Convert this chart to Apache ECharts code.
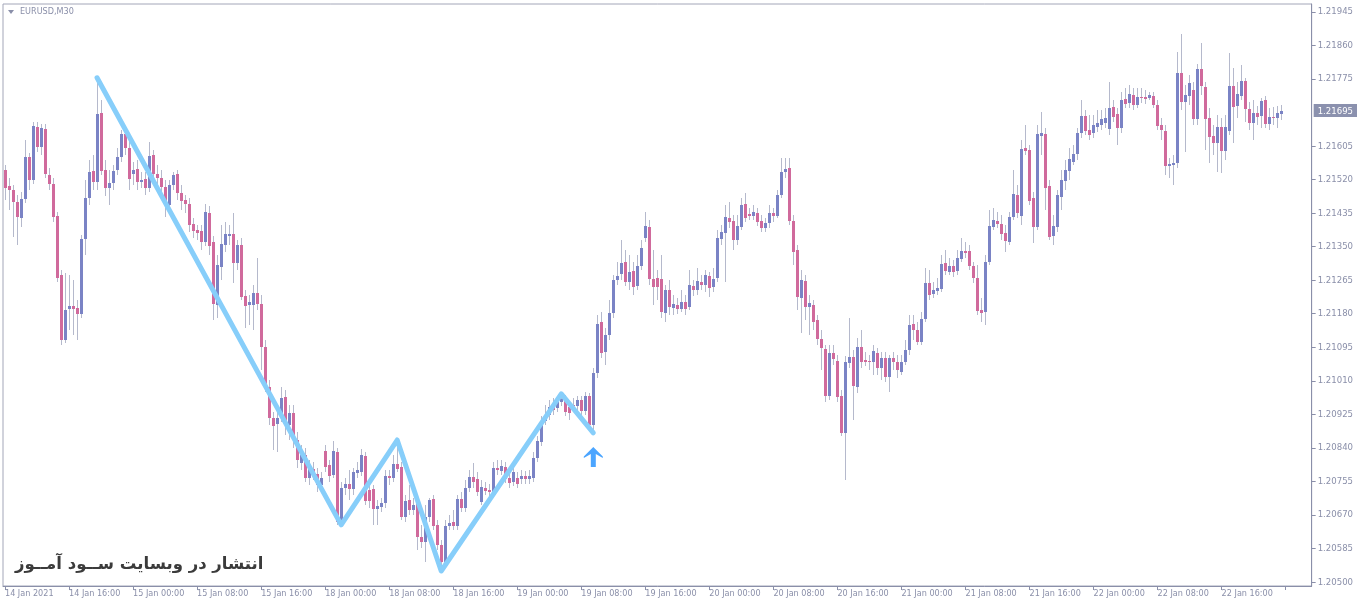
<!DOCTYPE html>
<html><head><meta charset="utf-8">
<script src="https://cdn.jsdelivr.net/npm/echarts@6.0.0/dist/echarts.min.js"></script>
<style>html,body{margin:0;padding:0;background:#fff}#c{width:1360px;height:602px}</style>
</head><body><div id="c"></div>
<script>
const symbolName = 'EURUSD,M30';
const watermark = 'انتشار در وبسایت ســود آمــوز';
const tickLabels = ['14 Jan 2021','14 Jan 16:00','15 Jan 00:00','15 Jan 08:00','15 Jan 16:00','18 Jan 00:00','18 Jan 08:00','18 Jan 16:00','19 Jan 00:00','19 Jan 08:00','19 Jan 16:00','20 Jan 00:00','20 Jan 08:00','20 Jan 16:00','21 Jan 00:00','21 Jan 08:00','21 Jan 16:00','22 Jan 00:00','22 Jan 08:00','22 Jan 16:00'];
const priceTicks = [1.20500,1.20585,1.20670,1.20755,1.20840,1.20925,1.21010,1.21095,1.21180,1.21265,1.21350,1.21435,1.21520,1.21605,1.21775,1.21860,1.21945];
const lastPrice = 1.21695;
const emptySlots = 7;

const opens = [
1.21544,1.21504,1.21494,1.21463,1.21423,1.21471,1.21577,1.21519,1.21654,1.21603,
1.21648,1.21532,1.21509,1.21428,1.21278,1.21114,1.21192,1.21200,1.21195,1.21179,
1.21370,1.21473,1.21542,1.21514,1.21689,1.21544,1.21499,1.21512,1.21544,1.21577,
1.21636,1.21600,1.21534,1.21547,1.21514,1.21522,1.21499,1.21582,1.21534,1.21524,
1.21501,1.21456,1.21506,1.21534,1.21486,1.21468,1.21458,1.21408,1.21392,1.21390,
1.21362,1.21435,1.21362,1.21202,1.21299,1.21354,1.21377,1.21382,1.21309,1.21354,
1.21225,1.21202,1.21202,1.21233,1.21205,1.21096,1.20994,1.20916,1.20901,1.20916,
1.20969,1.20898,1.20928,1.20860,1.20802,1.20822,1.20764,1.20787,1.20774,1.20746,
1.20832,1.20797,1.20771,1.20830,1.20652,1.20738,1.20748,1.20736,1.20776,1.20779,
1.20819,1.20733,1.20736,1.20685,1.20690,1.20700,1.20769,1.20764,1.20799,1.20792,
1.20665,1.20708,1.20683,1.20698,1.20614,1.20601,1.20665,1.20710,1.20645,1.20594,
1.20551,1.20642,1.20652,1.20642,1.20710,1.20688,1.20738,1.20766,1.20761,1.20703,
1.20738,1.20733,1.20728,1.20789,1.20781,1.20792,1.20764,1.20754,1.20764,1.20761,
1.20769,1.20761,1.20764,1.20814,1.20855,1.20908,1.20923,1.20946,1.20941,1.20956,
1.20966,1.20944,1.20949,1.20946,1.20961,1.20934,1.20972,1.20898,1.21030,1.21159,
1.21083,1.21126,1.21182,1.21266,1.21281,1.21311,1.21261,1.21288,1.21250,1.21301,
1.21372,1.21400,1.21268,1.21271,1.21268,1.21182,1.21240,1.21195,1.21202,1.21192,
1.21210,1.21197,1.21250,1.21240,1.21261,1.21253,1.21276,1.21248,1.21271,1.21370,
1.21385,1.21423,1.21415,1.21367,1.21400,1.21458,1.21433,1.21428,1.21435,1.21415,
1.21397,1.21410,1.21435,1.21428,1.21481,1.21539,1.21550,1.21415,1.21342,1.21220,
1.21263,1.21197,1.21202,1.21164,1.21116,1.21091,1.20972,1.21081,1.21060,1.20972,
1.20878,1.21055,1.21070,1.20994,1.21096,1.21063,1.21060,1.21058,1.21081,1.21043,
1.21068,1.21020,1.21068,1.21058,1.21032,1.21058,1.21088,1.21154,1.21139,1.21108,
1.21167,1.21258,1.21230,1.21238,1.21243,1.21309,1.21286,1.21301,1.21288,1.21319,
1.21339,1.21339,1.21301,1.21271,1.21190,1.21184,1.21311,1.21400,1.21415,1.21408,
1.21385,1.21362,1.21425,1.21481,1.21428,1.21600,1.21595,1.21473,1.21400,1.21631,
1.21636,1.21504,1.21377,1.21400,1.21476,1.21517,1.21542,1.21565,1.21585,1.21638,
1.21681,1.21646,1.21638,1.21654,1.21659,1.21664,1.21648,1.21704,1.21686,1.21651,
1.21724,1.21714,1.21734,1.21709,1.21729,1.21729,1.21727,1.21732,1.21709,1.21659,
1.21643,1.21554,1.21557,1.21562,1.21790,1.21717,1.21732,1.21747,1.21674,1.21800,
1.21755,1.21676,1.21631,1.21613,1.21654,1.21592,1.21643,1.21757,1.21707,1.21732,
1.21770,1.21699,1.21664,1.21689,1.21681,1.21722,1.21661,1.21679,1.21676,1.21686];

const closes = [
1.21499,1.21494,1.21463,1.21425,1.21471,1.21577,1.21519,1.21656,1.21603,1.21651,
1.21534,1.21509,1.21425,1.21271,1.21114,1.21190,1.21200,1.21192,1.21179,1.21370,
1.21473,1.21539,1.21514,1.21686,1.21542,1.21499,1.21512,1.21542,1.21577,1.21636,
1.21600,1.21522,1.21544,1.21514,1.21519,1.21499,1.21580,1.21534,1.21524,1.21501,
1.21456,1.21506,1.21532,1.21486,1.21466,1.21458,1.21405,1.21390,1.21385,1.21362,
1.21438,1.21352,1.21205,1.21304,1.21357,1.21382,1.21382,1.21309,1.21354,1.21223,
1.21200,1.21210,1.21233,1.21205,1.21096,1.20992,1.20916,1.20896,1.20916,1.20966,
1.20898,1.20928,1.20860,1.20809,1.20822,1.20764,1.20787,1.20771,1.20746,1.20764,
1.20792,1.20769,1.20832,1.20652,1.20738,1.20748,1.20736,1.20779,1.20784,1.20822,
1.20705,1.20705,1.20685,1.20693,1.20700,1.20769,1.20764,1.20799,1.20787,1.20665,
1.20705,1.20683,1.20695,1.20614,1.20601,1.20665,1.20708,1.20642,1.20594,1.20551,
1.20642,1.20650,1.20642,1.20710,1.20688,1.20738,1.20766,1.20754,1.20728,1.20741,
1.20731,1.20728,1.20789,1.20784,1.20794,1.20761,1.20751,1.20779,1.20748,1.20769,
1.20761,1.20769,1.20814,1.20857,1.20908,1.20923,1.20944,1.20936,1.20956,1.20964,
1.20931,1.20928,1.20946,1.20961,1.20934,1.20972,1.20898,1.21030,1.21154,1.21081,
1.21126,1.21182,1.21266,1.21276,1.21309,1.21261,1.21286,1.21248,1.21301,1.21347,
1.21402,1.21268,1.21248,1.21248,1.21184,1.21240,1.21197,1.21205,1.21192,1.21210,
1.21192,1.21253,1.21240,1.21263,1.21253,1.21278,1.21245,1.21268,1.21372,1.21387,
1.21425,1.21413,1.21367,1.21402,1.21456,1.21423,1.21428,1.21438,1.21413,1.21397,
1.21410,1.21435,1.21428,1.21481,1.21539,1.21547,1.21415,1.21337,1.21223,1.21266,
1.21197,1.21207,1.21159,1.21116,1.21093,1.20972,1.21081,1.21065,1.20969,1.20878,
1.21058,1.21070,1.20997,1.21096,1.21058,1.21058,1.21058,1.21086,1.21043,1.21068,
1.21020,1.21068,1.21058,1.21037,1.21058,1.21088,1.21152,1.21139,1.21108,1.21167,
1.21258,1.21228,1.21240,1.21245,1.21306,1.21288,1.21301,1.21286,1.21321,1.21339,
1.21334,1.21301,1.21271,1.21187,1.21182,1.21311,1.21402,1.21418,1.21408,1.21382,
1.21365,1.21425,1.21484,1.21435,1.21598,1.21592,1.21466,1.21400,1.21636,1.21638,
1.21499,1.21375,1.21402,1.21481,1.21519,1.21544,1.21572,1.21585,1.21638,1.21681,
1.21643,1.21633,1.21658,1.21664,1.21674,1.21676,1.21702,1.21679,1.21651,1.21722,
1.21712,1.21737,1.21709,1.21729,1.21727,1.21724,1.21734,1.21709,1.21656,1.21646,
1.21554,1.21560,1.21562,1.21790,1.21717,1.21734,1.21765,1.21674,1.21800,1.21757,
1.21674,1.21628,1.21613,1.21654,1.21592,1.21654,1.21757,1.21704,1.21737,1.21770,
1.21699,1.21664,1.21689,1.21679,1.21719,1.21661,1.21679,1.21676,1.21689,1.21695];

const lows = [
1.21468,1.21443,1.21375,1.21354,1.21400,1.21461,1.21494,1.21509,1.21590,1.21582,
1.21524,1.21494,1.21413,1.21261,1.21101,1.21106,1.21139,1.21126,1.21114,1.21169,
1.21329,1.21456,1.21494,1.21494,1.21532,1.21479,1.21456,1.21494,1.21532,1.21565,
1.21582,1.21494,1.21506,1.21494,1.21499,1.21481,1.21489,1.21519,1.21506,1.21489,
1.21425,1.21443,1.21494,1.21468,1.21443,1.21435,1.21387,1.21372,1.21367,1.21342,
1.21352,1.21329,1.21164,1.21169,1.21266,1.21337,1.21354,1.21258,1.21291,1.21215,
1.21144,1.21152,1.21139,1.21190,1.21037,1.20982,1.20898,1.20835,1.20830,1.20906,
1.20873,1.20860,1.20840,1.20789,1.20784,1.20754,1.20746,1.20759,1.20728,1.20733,
1.20779,1.20754,1.20764,1.20645,1.20645,1.20721,1.20708,1.20721,1.20764,1.20769,
1.20695,1.20688,1.20645,1.20645,1.20677,1.20688,1.20746,1.20754,1.20779,1.20657,
1.20652,1.20670,1.20670,1.20581,1.20586,1.20551,1.20652,1.20632,1.20581,1.20528,
1.20543,1.20632,1.20632,1.20632,1.20677,1.20677,1.20728,1.20738,1.20718,1.20695,
1.20721,1.20718,1.20721,1.20771,1.20771,1.20751,1.20738,1.20743,1.20738,1.20748,
1.20748,1.20748,1.20754,1.20804,1.20845,1.20898,1.20911,1.20923,1.20931,1.20946,
1.20921,1.20911,1.20931,1.20936,1.20921,1.20923,1.20885,1.20878,1.21017,1.21068,
1.21050,1.21114,1.21169,1.21253,1.21266,1.21250,1.21240,1.21228,1.21240,1.21291,
1.21362,1.21253,1.21202,1.21215,1.21169,1.21159,1.21177,1.21177,1.21179,1.21184,
1.21177,1.21190,1.21225,1.21228,1.21240,1.21235,1.21223,1.21235,1.21261,1.21354,
1.21261,1.21397,1.21342,1.21354,1.21392,1.21413,1.21418,1.21418,1.21402,1.21387,
1.21387,1.21397,1.21413,1.21423,1.21473,1.21524,1.21405,1.21304,1.21190,1.21131,
1.21164,1.21126,1.21139,1.21101,1.21037,1.20956,1.20961,1.21050,1.20956,1.20870,
1.20759,1.21043,1.20911,1.20979,1.21043,1.21048,1.21037,1.21025,1.21025,1.21012,
1.21007,1.20982,1.21037,1.21017,1.21025,1.21050,1.21075,1.21114,1.21101,1.21101,
1.21159,1.21215,1.21220,1.21228,1.21235,1.21278,1.21278,1.21273,1.21278,1.21311,
1.21321,1.21291,1.21258,1.21177,1.21159,1.21152,1.21304,1.21392,1.21397,1.21367,
1.21337,1.21354,1.21418,1.21423,1.21405,1.21582,1.21456,1.21359,1.21392,1.21582,
1.21443,1.21367,1.21354,1.21387,1.21443,1.21494,1.21519,1.21557,1.21570,1.21626,
1.21633,1.21620,1.21626,1.21641,1.21646,1.21651,1.21633,1.21666,1.21608,1.21638,
1.21702,1.21702,1.21697,1.21702,1.21714,1.21712,1.21722,1.21702,1.21646,1.21620,
1.21532,1.21524,1.21506,1.21550,1.21697,1.21590,1.21709,1.21659,1.21659,1.21734,
1.21595,1.21562,1.21582,1.21539,1.21537,1.21570,1.21633,1.21613,1.21676,1.21722,
1.21666,1.21646,1.21620,1.21659,1.21651,1.21651,1.21646,1.21659,1.21651,1.21671];

const highs = [
1.21557,1.21524,1.21506,1.21481,1.21489,1.21620,1.21588,1.21666,1.21666,1.21661,
1.21661,1.21550,1.21524,1.21438,1.21291,1.21283,1.21278,1.21266,1.21215,1.21380,
1.21519,1.21570,1.21582,1.21778,1.21722,1.21570,1.21544,1.21557,1.21600,1.21646,
1.21651,1.21620,1.21565,1.21570,1.21539,1.21539,1.21615,1.21595,1.21557,1.21544,
1.21519,1.21519,1.21539,1.21544,1.21506,1.21481,1.21473,1.21423,1.21405,1.21405,
1.21458,1.21453,1.21377,1.21329,1.21405,1.21413,1.21405,1.21435,1.21367,1.21372,
1.21240,1.21228,1.21253,1.21321,1.21228,1.21114,1.21012,1.20931,1.20936,1.20994,
1.20987,1.20949,1.20949,1.20880,1.20847,1.20840,1.20809,1.20804,1.20789,1.20779,
1.20847,1.20809,1.20857,1.20840,1.20754,1.20764,1.20784,1.20789,1.20804,1.20837,
1.20830,1.20746,1.20746,1.20708,1.20713,1.20784,1.20784,1.20822,1.20860,1.20804,
1.20721,1.20746,1.20713,1.20708,1.20645,1.20695,1.20713,1.20721,1.20657,1.20607,
1.20657,1.20670,1.20683,1.20721,1.20728,1.20759,1.20784,1.20802,1.20779,1.20759,
1.20754,1.20748,1.20804,1.20809,1.20809,1.20804,1.20779,1.20789,1.20779,1.20784,
1.20781,1.20784,1.20830,1.20870,1.20921,1.20949,1.20961,1.20966,1.20972,1.20977,
1.20974,1.20956,1.20966,1.20972,1.20972,1.20982,1.20979,1.21043,1.21177,1.21184,
1.21144,1.21215,1.21278,1.21311,1.21367,1.21342,1.21329,1.21311,1.21329,1.21367,
1.21438,1.21418,1.21342,1.21291,1.21329,1.21253,1.21266,1.21228,1.21220,1.21240,
1.21228,1.21291,1.21266,1.21296,1.21278,1.21291,1.21286,1.21296,1.21392,1.21405,
1.21456,1.21463,1.21430,1.21430,1.21473,1.21486,1.21448,1.21456,1.21448,1.21430,
1.21423,1.21456,1.21448,1.21494,1.21575,1.21575,1.21575,1.21430,1.21354,1.21291,
1.21278,1.21228,1.21215,1.21177,1.21139,1.21101,1.21101,1.21101,1.21075,1.20987,
1.21073,1.21169,1.21088,1.21119,1.21139,1.21083,1.21075,1.21101,1.21093,1.21083,
1.21083,1.21075,1.21083,1.21075,1.21075,1.21114,1.21177,1.21177,1.21159,1.21184,
1.21296,1.21291,1.21261,1.21271,1.21329,1.21342,1.21321,1.21316,1.21342,1.21372,
1.21362,1.21354,1.21311,1.21304,1.21220,1.21329,1.21443,1.21448,1.21438,1.21430,
1.21405,1.21438,1.21544,1.21506,1.21620,1.21658,1.21608,1.21489,1.21658,1.21691,
1.21651,1.21519,1.21430,1.21494,1.21544,1.21570,1.21600,1.21608,1.21651,1.21722,
1.21697,1.21684,1.21684,1.21697,1.21697,1.21702,1.21768,1.21722,1.21702,1.21742,
1.21752,1.21760,1.21752,1.21752,1.21752,1.21747,1.21742,1.21742,1.21722,1.21676,
1.21658,1.21575,1.21582,1.21844,1.21889,1.21760,1.21785,1.21768,1.21813,1.21866,
1.21768,1.21702,1.21658,1.21684,1.21676,1.21684,1.21841,1.21803,1.21768,1.21810,
1.21778,1.21717,1.21722,1.21707,1.21727,1.21732,1.21702,1.21704,1.21707,1.21709];

// ZigZag turning points: [bar index, price]
const zigzag = [[23,1.21778],[84,1.20645],[98,1.20860],[109,1.20528],[139,1.20977],[147,1.20878]];
// buy arrow: [bar index, price]
const arrows = [[147,1.20817]];

// categories: M30 bars from 14 Jan 2021 08:00, weekend skipped
const MON = ['Jan','Feb','Mar','Apr','May','Jun','Jul','Aug','Sep','Oct','Nov','Dec'];
const categories = [];
{
  let t = Date.UTC(2021,0,14,8,0);
  while (categories.length < opens.length + emptySlots) {
    const d = new Date(t);
    const wd = d.getUTCDay();
    if (wd !== 0 && wd !== 6) {
      const p = n => String(n).padStart(2,'0');
      categories.push(p(d.getUTCDate())+' '+MON[d.getUTCMonth()]+' '+p(d.getUTCHours())+':'+p(d.getUTCMinutes()));
    }
    t += 30*60*1000;
  }
}

const candleData = opens.map((o,i)=>[i, o, closes[i], lows[i], highs[i]]);

const AX = '#8a8fa9';
const BULL = '#7a83c5';
const BEAR = '#d06a9c';
const WICK = '#b5b9cc';
const FONT = '"DejaVu Sans Condensed", "DejaVu Sans", Tahoma, sans-serif';

function renderCandle(params, api) {
  const i = api.value(0);
  const o = api.value(1), c = api.value(2), l = api.value(3), h = api.value(4);
  const pO = api.coord([i, o]), pC = api.coord([i, c]);
  const pL = api.coord([i, l]), pH = api.coord([i, h]);
  const cx = Math.round(pO[0] - 0.5);
  const yH = Math.round(pH[1]), yL = Math.round(pL[1]);
  const top = Math.round(Math.min(pO[1], pC[1]));
  const bot = Math.round(Math.max(pO[1], pC[1]));
  const col = c >= o ? BULL : BEAR;
  return {
    type: 'group',
    children: [
      {type: 'rect', shape: {x: cx, y: yH, width: 1, height: Math.max(1, yL - yH)}, style: {fill: WICK}},
      {type: 'rect', shape: {x: cx - 1, y: top, width: 3, height: Math.max(1, bot - top)}, style: {fill: col}}
    ]
  };
}

const chart = echarts.init(document.getElementById('c'), null, {renderer:'canvas'});
chart.setOption({
  animation: false,
  backgroundColor: '#ffffff',
  grid: {left: 3, right: 48, top: 4, bottom: 16, show: true, borderColor: '#a3a6b8', borderWidth: 1, backgroundColor: '#ffffff'},
  xAxis: {
    type: 'category', data: categories, boundaryGap: true,
    axisLine: {show: true, lineStyle: {color: AX, width: 1}},
    axisTick: {show: true, interval: 15, alignWithLabel: true, length: 4, lineStyle: {color: AX}},
    axisLabel: {
      interval: 15, align: 'left', margin: 3, color: AX, fontSize: 9, fontFamily: FONT,
      formatter: (v, idx) => (idx % 16 === 0 && tickLabels[idx/16]) ? tickLabels[idx/16] : ''
    },
    splitLine: {show: false}
  },
  yAxis: {
    type: 'value', position: 'right', scale: true, min: 1.20490, max: 1.21965,
    axisLine: {show: true, lineStyle: {color: AX, width: 1}},
    axisTick: {show: true, customValues: priceTicks, length: 4, lineStyle: {color: AX}},
    axisLabel: {
      customValues: priceTicks.concat([lastPrice]), margin: 2, fontSize: 9.5, fontFamily: FONT,
      formatter: v => Math.abs(v - lastPrice) < 1e-7 ? '{hl|' + v.toFixed(5) + '}' : '{n|' + v.toFixed(5) + '}',
      rich: {
        n: {color: AX, fontSize: 9.5, fontFamily: FONT, padding: [0, 0, 0, 4]},
        hl: {color: '#ffffff', fontSize: 9.5, fontFamily: FONT, backgroundColor: '#8b91ae', padding: [2, 4, 1, 4]}
      }
    },
    splitLine: {show: false}
  },
  graphic: [
    {type: 'polygon', shape: {points: [[8,10],[14,10],[11,14]]}, style: {fill: AX}, z: 10},
    {type: 'text', x: 20, y: 7, style: {text: symbolName, font: '9px ' + FONT, fill: AX}, z: 10},
    {type: 'text', x: 15, y: 565, style: {text: watermark, font: 'bold 16.5px "DejaVu Sans"', fill: '#3b3b3b', textVerticalAlign: 'middle'}, z: 10}
  ],
  series: [
    {
      name: 'candles', type: 'custom', data: candleData, renderItem: renderCandle,
      encode: {x: 0, y: [1, 2, 3, 4]}, z: 2, silent: true
    },
    {
      name: 'zigzag', type: 'line', data: zigzag, symbol: 'none', z: 5,
      lineStyle: {color: '#87cefa', width: 5, cap: 'round', join: 'round'}, silent: true
    },
    {
      name: 'signal', type: 'scatter', data: arrows, z: 6, silent: true,
      symbol: 'path://M9.5,0 L19,9.5 L19,11 L12,7 L12,20 L7,20 L7,7 L0,11 L0,9.5 Z',
      symbolSize: [19, 20], itemStyle: {color: '#1e8fff'}
    }
  ]
});
</script>
</body></html>
